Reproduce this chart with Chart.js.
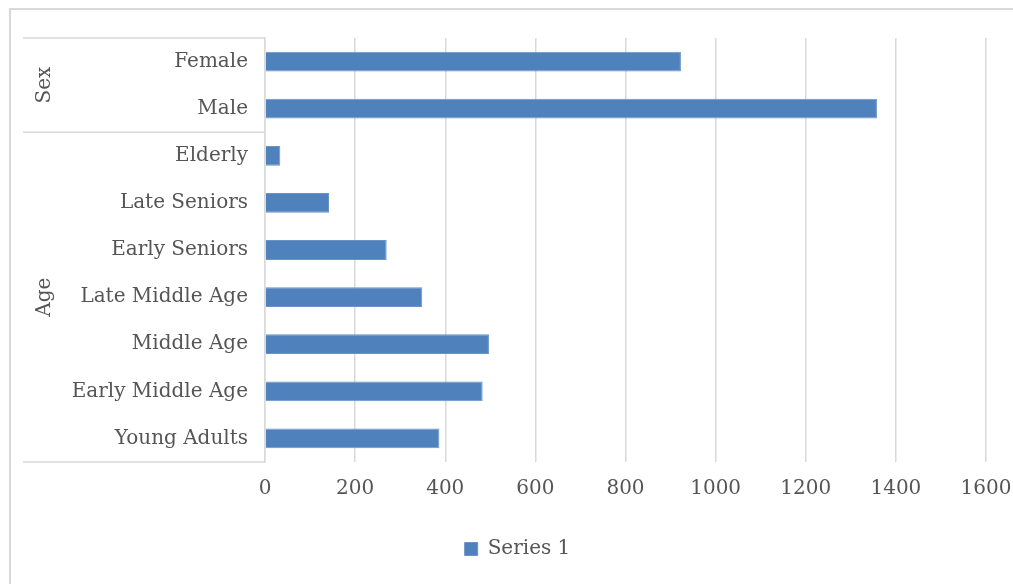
<!DOCTYPE html>
<html>
<head>
<meta charset="utf-8">
<script src="https://cdn.jsdelivr.net/npm/chart.js@4"></script>
<style>
  body { margin: 0; background: #fff; }
  #wrap { position: absolute; left: 0; top: 0; width: 1013px; height: 584px; }
</style>
</head>
<body>
<div id="wrap"><canvas id="myChart" width="1013" height="584"></canvas></div>
<script>
// data
const categories = ["Female", "Male", "Elderly", "Late Seniors", "Early Seniors",
  "Late Middle Age", "Middle Age", "Early Middle Age", "Young Adults"];
const values = [923, 1358, 34, 142, 270, 349, 497, 483, 387];
const groupNames = ["Sex", "Age"];
const groupSizes = [2, 7];
const seriesName = "Series 1";

const txt = "#555555";
const lineCol = "#d9d9d9";
const fontFam = "'DejaVu Serif', serif";
const fontSize = 20;

// outer frame + group boxes on the left
const groupPlugin = {
  id: "groups",
  beforeDraw(chart) {
    const c = chart.ctx;
    c.save();
    c.fillStyle = "#fff";
    c.fillRect(0, 0, chart.width, chart.height);
    c.strokeStyle = lineCol;
    c.lineWidth = 2;
    c.strokeRect(10, 9, chart.width + 20, chart.height + 20);
    c.restore();
  },
  afterDraw(chart) {
    const c = chart.ctx;
    const y = chart.scales.y;
    const area = chart.chartArea;
    const x0 = 23;
    c.save();
    c.strokeStyle = lineCol;
    c.lineWidth = 1.5;
    let start = 0;
    let edges = [area.top];
    groupSizes.forEach((n, gi) => {
      const end = start + n - 1;
      let bottom = (end === categories.length - 1) ? area.bottom
        : (y.getPixelForValue(end) + y.getPixelForValue(end + 1)) / 2;
      edges.push(bottom);
      const top = edges[gi];
      // label
      c.save();
      c.translate(45, (top + bottom) / 2);
      c.rotate(-Math.PI / 2);
      c.fillStyle = txt;
      c.font = fontSize + "px " + fontFam;
      c.textAlign = "center";
      c.textBaseline = "middle";
      c.fillText(groupNames[gi], 0, 0);
      c.restore();
      start += n;
    });
    edges.forEach(e => {
      c.beginPath();
      c.moveTo(x0, e);
      c.lineTo(area.left, e);
      c.stroke();
    });
    c.restore();
  }
};

new Chart(document.getElementById("myChart"), {
  type: "bar",
  data: {
    labels: categories,
    datasets: [{
      label: seriesName,
      data: values,
      backgroundColor: "#4f81bd",
      borderColor: "#6a93c6",
      borderWidth: 1,
      categoryPercentage: 1,
      barPercentage: 0.42
    }]
  },
  options: {
    indexAxis: "y",
    responsive: false,
    animation: false,
    layout: { padding: { top: 38, right: 27, left: 49, bottom: 15 } },
    plugins: {
      legend: {
        position: "bottom",
        labels: {
          color: txt,
          font: { family: fontFam, size: fontSize },
          boxWidth: 13,
          boxHeight: 13,
          padding: 10
        }
      },
      tooltip: { enabled: false }
    },
    scales: {
      x: {
        min: 0,
        max: 1600,
        ticks: {
          stepSize: 200, color: txt, font: { family: fontFam, size: fontSize }, padding: 15,
          callback: v => String(v)
        },
        grid: { color: lineCol, lineWidth: 1.5, drawTicks: false },
        border: { display: false },
        afterFit(s) { s.height = 67; s.paddingLeft = 0; s.paddingRight = 0; }
      },
      y: {
        ticks: { color: txt, font: { family: fontFam, size: fontSize }, padding: 17 },
        grid: { display: false, drawTicks: false },
        border: { display: true, color: lineCol, width: 1.5 },
        afterFit(s) { s.width = 216; }
      }
    }
  },
  plugins: [groupPlugin]
});
</script>
</body>
</html>
